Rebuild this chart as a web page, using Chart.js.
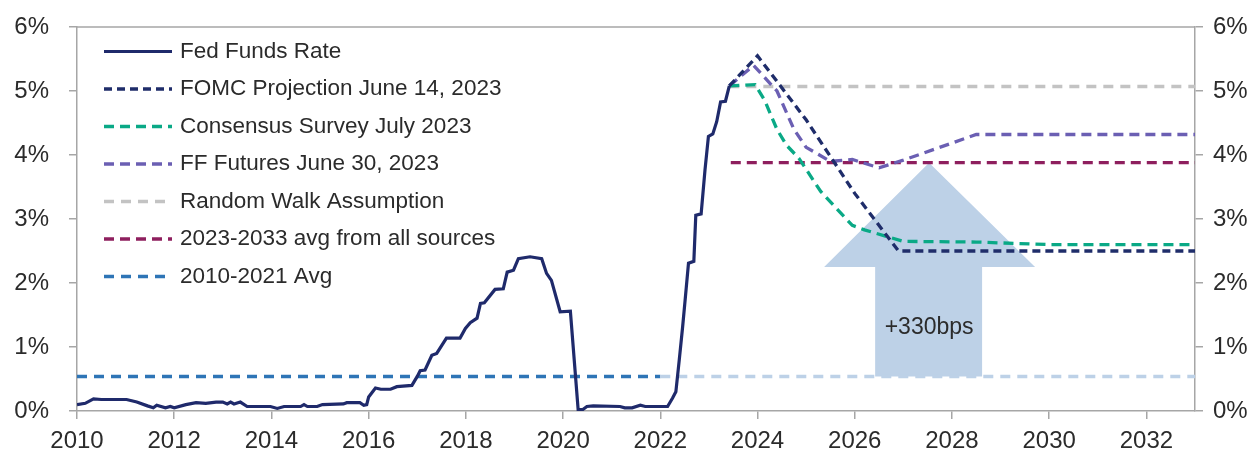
<!DOCTYPE html>
<html>
<head>
<meta charset="utf-8">
<script src="https://cdn.jsdelivr.net/npm/chart.js@4.4.0/dist/chart.umd.min.js"></script>
<style>
  html, body { margin: 0; padding: 0; background: #fff; }
</style>
</head>
<body>
<canvas id="rates" width="1256" height="457"></canvas>
<script>
/******************* Data *******************/
// effective fed funds rate, decimal year / percent
const ffrYears = [2010.00, 2010.17, 2010.34, 2010.50, 2011.02, 2011.23, 2011.45, 2011.57, 2011.64, 2011.82,
  2011.92, 2012.00, 2012.24, 2012.45, 2012.65, 2012.86, 2013.00, 2013.09, 2013.16, 2013.23,
  2013.36, 2013.50, 2013.98, 2014.12, 2014.26, 2014.60, 2014.67, 2014.74, 2014.94, 2015.05,
  2015.48, 2015.55, 2015.82, 2015.90, 2015.96, 2016.00, 2016.14, 2016.25, 2016.45, 2016.58,
  2016.89, 2017.00, 2017.06, 2017.16, 2017.30, 2017.40, 2017.60, 2017.88, 2017.99, 2018.09,
  2018.23, 2018.30, 2018.38, 2018.60, 2018.77, 2018.85, 2018.98, 2019.08, 2019.32, 2019.56,
  2019.66, 2019.76, 2019.94, 2020.15, 2020.31, 2020.40, 2020.49, 2020.62, 2021.17, 2021.27,
  2021.42, 2021.59, 2021.69, 2022.15, 2022.25, 2022.32, 2022.39, 2022.46, 2022.51, 2022.58,
  2022.69, 2022.73, 2022.84, 2022.92, 2022.99, 2023.08, 2023.16, 2023.24, 2023.34, 2023.42];
const ffrValues = [0.10, 0.12, 0.19, 0.18, 0.18, 0.14, 0.08, 0.05, 0.09, 0.05,
  0.07, 0.05, 0.10, 0.13, 0.12, 0.14, 0.14, 0.11, 0.14, 0.11,
  0.14, 0.07, 0.07, 0.04, 0.07, 0.07, 0.10, 0.07, 0.07, 0.10,
  0.11, 0.13, 0.13, 0.09, 0.10, 0.22, 0.36, 0.34, 0.34, 0.38,
  0.40, 0.54, 0.63, 0.64, 0.87, 0.90, 1.14, 1.14, 1.29, 1.38,
  1.45, 1.68, 1.69, 1.90, 1.91, 2.17, 2.20, 2.38, 2.41, 2.38,
  2.15, 2.04, 1.55, 1.56, 0.02, 0.02, 0.07, 0.08, 0.07, 0.05,
  0.05, 0.09, 0.07, 0.07, 0.20, 0.30, 0.80, 1.32, 1.73, 2.31,
  2.34, 3.06, 3.08, 3.77, 4.29, 4.33, 4.52, 4.83, 4.84, 5.08];

const fomcYears = [2023.42, 2024.0, 2025.0, 2026.0, 2026.9, 2033.0];
const fomcValues = [5.08, 5.55, 4.55, 3.40, 2.50, 2.50];

const surveyYears = [2023.42, 2023.95, 2024.15, 2024.4, 2024.6, 2024.85, 2025.3, 2025.95, 2026.2, 2027.0, 2028.5, 2030.0, 2033.0];
const surveyValues = [5.08, 5.10, 4.85, 4.40, 4.15, 3.95, 3.43, 2.90, 2.83, 2.65, 2.64, 2.60, 2.60];

const futuresYears = [2023.42, 2023.92, 2024.4, 2024.75, 2025.0, 2025.5, 2025.95, 2026.5, 2027.0, 2028.5, 2033.0];
const futuresValues = [5.08, 5.40, 5.00, 4.40, 4.12, 3.90, 3.93, 3.80, 3.92, 4.32, 4.32];

const randomWalkYears = [2023.42, 2033.0];
const randomWalkValues = [5.07, 5.07];

const avg2023Years = [2023.45, 2033.0];
const avg2023Values = [3.88, 3.88];

const avg2010Years = [2010.0, 2022.0, 2033.0];
const avg2010Values = [0.54, 0.54, 0.54];

const xTicks = [2010, 2012, 2014, 2016, 2018, 2020, 2022, 2024, 2026, 2028, 2030, 2032];
const yTicks = [0, 1, 2, 3, 4, 5, 6];

const arrowLabel = '+330bps';

/******************* Helpers *******************/
const pts = (xs, ys) => xs.map((x, i) => ({ x: x, y: ys[i] }));
const FONT = '"Liberation Sans", Arial, sans-serif';
const AXIS = '#a6a6a6';
const TEXT = '#2b2b2b';

const line = (label, xs, ys, color, dash, width) => ({
    label: label,
    data: pts(xs, ys),
    borderColor: color,
    borderDash: dash,
    borderWidth: width,
    pointRadius: 0,
    tension: 0,
    fill: false
});

// big pale arrow from the 2010-2021 avg up to the 2023-2033 avg
const upArrow = {
    id: 'upArrow',
    beforeDatasetsDraw(chart) {
        const { ctx, scales: { x, y } } = chart;
        const base = avg2010Values[0], top = avg2023Values[0];
        const neck = 2.25;
        const mid = 2027.53;
        const px = v => x.getPixelForValue(v), py = v => y.getPixelForValue(v);
        ctx.save();
        ctx.fillStyle = '#bdd1e7';
        ctx.beginPath();
        ctx.moveTo(px(2026.42), py(base));
        ctx.lineTo(px(2026.42), py(neck));
        ctx.lineTo(px(2025.37), py(neck));
        ctx.lineTo(px(mid), py(top));
        ctx.lineTo(px(2029.71), py(neck));
        ctx.lineTo(px(2028.62), py(neck));
        ctx.lineTo(px(2028.62), py(base));
        ctx.closePath();
        ctx.fill();
        ctx.font = '23px ' + FONT;
        ctx.fillStyle = TEXT;
        ctx.textAlign = 'center';
        ctx.textBaseline = 'middle';
        ctx.fillText(arrowLabel, px(mid), py(1.3));
        ctx.restore();
    }
};

// legend box inside the plot, top left
const legendBox = {
    id: 'legendBox',
    afterDatasetsDraw(chart) {
        const { ctx, chartArea } = chart;
        const x0 = chartArea.left + 27;
        const y0 = chartArea.top + 24.5;
        ctx.save();
        ctx.font = '22.5px ' + FONT;
        ctx.textBaseline = 'middle';
        chart.data.datasets.forEach((d, i) => {
            const yy = y0 + i * 37.5;
            ctx.beginPath();
            ctx.setLineDash(d.borderDash || []);
            ctx.strokeStyle = d.borderColor;
            ctx.lineWidth = d.borderWidth;
            ctx.moveTo(x0, yy);
            ctx.lineTo(x0 + 68, yy);
            ctx.stroke();
            ctx.setLineDash([]);
            ctx.fillStyle = TEXT;
            ctx.fillText(d.label, x0 + 76, yy);
        });
        ctx.restore();
    }
};

// top border of the plot frame
const frameTop = {
    id: 'frameTop',
    afterDraw(chart) {
        const { ctx, chartArea } = chart;
        ctx.save();
        ctx.strokeStyle = AXIS;
        ctx.lineWidth = 1.5;
        ctx.beginPath();
        ctx.moveTo(chartArea.left, chartArea.top);
        ctx.lineTo(chartArea.right, chartArea.top);
        ctx.stroke();
        ctx.restore();
    }
};

const avgLine = line('2010-2021 Avg', avg2010Years, avg2010Values, '#2e75b6', [10, 7], 3.5);
avgLine.segment = {
    borderColor: c => c.p0.parsed.x >= 2022 ? '#bdd1e7' : '#2e75b6'
};

const datasets = [
    line('Fed Funds Rate', ffrYears, ffrValues, '#1f2a6b', [], 3.2),
    line('FOMC Projection June 14, 2023', fomcYears, fomcValues, '#1f2d6a', [8, 5], 3.3),
    line('Consensus Survey July 2023', surveyYears, surveyValues, '#0aa986', [10, 6], 3.3),
    line('FF Futures June 30, 2023', futuresYears, futuresValues, '#6b5fb3', [10, 6], 3.3),
    line('Random Walk Assumption', randomWalkYears, randomWalkValues, '#c3c3c3', [10, 7], 3.3),
    line('2023-2033 avg from all sources', avg2023Years, avg2023Values, '#8e1f5e', [10, 6], 3.3),
    avgLine
];

const yAxis = (pos, width) => ({
    type: 'linear',
    position: pos,
    min: 0,
    max: 6,
    afterFit: s => { s.width = width; s.paddingTop = 0; s.paddingBottom = 0; },
    afterBuildTicks: s => { s.ticks = yTicks.map(v => ({ value: v })); },
    border: { display: true, color: AXIS, width: 1.5 },
    grid: { drawOnChartArea: false, drawTicks: true, tickLength: 8, color: AXIS, lineWidth: 1.5 },
    ticks: {
        padding: pos === 'left' ? 20 : 10,
        color: TEXT,
        font: { family: FONT, size: 24 },
        callback: v => v + '%'
    }
});

new Chart(document.getElementById('rates'), {
    type: 'line',
    data: { datasets: datasets },
    options: {
        responsive: false,
        animation: false,
        devicePixelRatio: 1,
        layout: { padding: { top: 27, left: 0, right: 0, bottom: 0 } },
        plugins: { legend: { display: false }, tooltip: { enabled: false } },
        scales: {
            x: {
                type: 'linear',
                min: 2010,
                max: 2033,
                afterFit: s => { s.height = 46; s.paddingLeft = 0; s.paddingRight = 0; },
                afterBuildTicks: s => { s.ticks = xTicks.map(v => ({ value: v })); },
                border: { display: true, color: AXIS, width: 1.5 },
                grid: { drawOnChartArea: false, drawTicks: true, tickLength: 8, color: AXIS, lineWidth: 1.5 },
                ticks: {
                    padding: 8,
                    maxRotation: 0,
                    color: TEXT,
                    font: { family: FONT, size: 24 },
                    callback: v => String(v)
                }
            },
            y: yAxis('left', 77),
            y2: yAxis('right', 61)
        }
    },
    plugins: [upArrow, legendBox, frameTop]
});
</script>
</body>
</html>
